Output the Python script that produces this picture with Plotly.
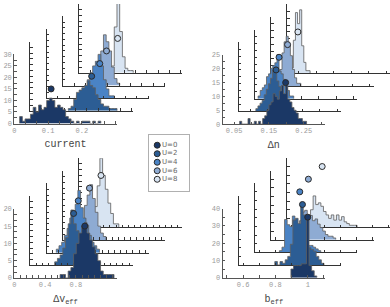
import math
import plotly.graph_objects as go

# ---------------- data ----------------
U_LABELS = ["U=0", "U=2", "U=4", "U=6", "U=8"]
AXIS_TITLES = ["current", "Δn", "Δv<sub>eff</sub>", "b<sub>eff</sub>"]

# panel 1: current
cur_bin = 0.008
cur_start = [0.016, 0.112, 0.088, 0.096, 0.096]
cur_U0 = [3, 1, 2, 2, 4, 7, 5, 8, 6, 7, 10, 11, 10, 7, 8, 7, 6, 3, 2, 1, 0, 1, 0, 1, 1, 1, 0, 1, 0, 1]
cur_U2 = [1, 2, 5, 8, 9, 10, 11, 13, 11, 10, 7, 5, 3, 2, 2, 1, 1, 1]
cur_U4 = [1, 1, 2, 3, 8, 11, 14, 16, 19, 14, 8, 4, 1, 1]
cur_U6 = [2, 7, 15, 22, 19, 15, 8, 3, 1]
cur_U8 = [3, 20, 32, 18, 7, 2, 1, 1]
cur_mean = [0.109, 0.181, 0.157, 0.129, 0.114]
cur_dot_y = 15
cur_xtick_vals = [0, 0.1, 0.2]
cur_xtick_text = ["0", "0.1", "0.2"]
cur_ytick_vals = [0, 5, 10, 15, 20, 25, 30]

# panel 2: delta n
dn_bin = 0.006
dn_start = [0.066, 0.066, 0.026, 0.036, 0.028]
dn_U0 = [1, 0, 0, 0, 2, 0, 0, 1, 0, 1, 0, 2, 3, 5, 7, 8, 11, 10, 9, 12, 14, 11, 15, 9, 8, 6, 5, 4, 2, 2, 1, 1]
dn_U2 = [1, 2, 3, 4, 6, 8, 10, 12, 15, 16, 11, 9, 7, 5, 3, 2, 1, 1]
dn_U4 = [1, 3, 4, 5, 8, 9, 11, 12, 13, 16, 10, 9, 7, 4, 3, 1, 1]
dn_U6 = [2, 6, 12, 16, 18, 15, 11, 6, 3, 1, 1]
dn_U8 = [2, 12, 22, 18, 23, 10, 4, 1, 1]
dn_mean = [0.198, 0.124, 0.086, 0.064, 0.047]
dn_dot_y = 15
dn_xtick_vals = [0.05, 0.15, 0.25]
dn_xtick_text = ["0.05", "0.15", "0.25"]
dn_ytick_vals = [0, 5, 10, 15, 20, 25]

# panel 3: delta v_eff
dv_bin = 0.035
dv_start = [0.595, 0.315, 0.125, 0.21, 0.2]
dv_U0 = [1, 1, 0, 2, 3, 7, 10, 13, 15, 16, 13, 11, 9, 7, 5, 2, 1, 1, 1, 1]
dv_U2 = [1, 2, 3, 5, 8, 12, 16, 12, 10, 8, 7, 5, 3, 3, 2, 1, 1]
dv_U4 = [1, 2, 3, 5, 7, 10, 12, 14, 18, 13, 10, 8, 5, 3, 2, 1]
dv_U6 = [2, 5, 10, 13, 16, 12, 8, 4, 2, 1]
dv_U8 = [6, 12, 20, 15, 11, 7, 4, 1, 1]
dv_mean = [0.916, 0.56, 0.41, 0.345, 0.284]
dv_dot_y = 15
dv_xtick_vals = [0, 0.4, 0.8]
dv_xtick_text = ["0", "0.4", "0.8"]
dv_ytick_vals = [0, 5, 10, 15, 20]

# panel 4: b_eff
b_bin = 0.016
b_start = [0.896, 0.696, 0.624, 0.616, 0.6]
b_U0 = [5, 7, 7, 7, 8, 8, 36, 7, 4, 1]
b_U2 = [2, 0, 2, 1, 3, 5, 12, 26, 27, 24, 36, 29, 28, 10, 9, 8, 5, 3, 1]
b_U4 = [1, 3, 19, 16, 15, 21, 18, 12, 10, 8, 6, 4, 4, 3, 2, 1]
b_U6 = [1, 5, 11, 16, 17, 13, 14, 11, 12, 9, 7, 5, 3, 2, 2, 1]
b_U8 = [4, 10, 18, 13, 14, 12, 9, 7, 5, 7, 4, 7, 4, 6, 3, 2, 1, 1, 1]
b_mean = [1.0, 0.867, 0.75, 0.703, 0.688]
b_dot_y = 35
b_xtick_vals = [0.6, 0.8, 1.0]
b_xtick_text = ["0.6", "0.8", "1"]
b_ytick_vals = [0, 10, 20, 30, 40]

# ---------------- style / layout ----------------
W, H = 390, 307
AX_W, AX_H = 103.0, 71.0
DX, DY = 16.3, 13.0
COLORS = ["#1b3866", "#2c5d94", "#4a83c5", "#8eabd3", "#d8e4f2"]
EDGE = "rgba(95,95,95,0.9)"
MONO = "Liberation Mono, DejaVu Sans Mono, monospace"

panels = [
    dict(bin=cur_bin, starts=cur_start, counts=[cur_U0, cur_U2, cur_U4, cur_U6, cur_U8],
         means=cur_mean, doty=cur_dot_y, ox=12.3, oy=122.7, xr=[0, 0.303], yr=[0, 30],
         xorig=0.0, xstep=0.1 / 3, xlv=cur_xtick_vals, xlt=cur_xtick_text,
         ystep=2.5, ylv=cur_ytick_vals),
    dict(bin=dn_bin, starts=dn_start, counts=[dn_U0, dn_U2, dn_U4, dn_U6, dn_U8],
         means=dn_mean, doty=dn_dot_y, ox=221.7, oy=123.3, xr=[0.017, 0.311], yr=[0, 25],
         xorig=0.05, xstep=0.05, xlv=dn_xtick_vals, xlt=dn_xtick_text,
         ystep=2.5, ylv=dn_ytick_vals),
    dict(bin=dv_bin, starts=dv_start, counts=[dv_U0, dv_U2, dv_U4, dv_U6, dv_U8],
         means=dv_mean, doty=dv_dot_y, ox=12.3, oy=281.3, xr=[0, 1.33], yr=[0, 20],
         xorig=0.0, xstep=0.08, xlv=dv_xtick_vals, xlt=dv_xtick_text,
         ystep=5 / 3, ylv=dv_ytick_vals),
    dict(bin=b_bin, starts=b_start, counts=[b_U0, b_U2, b_U4, b_U6, b_U8],
         means=b_mean, doty=b_dot_y, ox=221.7, oy=281.0, xr=[0.473, 1.107], yr=[0, 40],
         xorig=0.5, xstep=0.1, xlv=b_xtick_vals, xlt=b_xtick_text,
         ystep=5.0, ylv=b_ytick_vals),
]


def make_ticks(lo, hi, origin, step, lab_vals, lab_text):
    vals, text = [], []
    i = math.ceil((lo - origin) / step - 1e-9)
    while True:
        v = origin + i * step
        if v > hi + 1e-9:
            break
        vals.append(round(v, 6))
        t = ""
        for lv, lt in zip(lab_vals, lab_text):
            if abs(lv - v) < 1e-6:
                t = lt
        text.append(t)
        i += 1
    return vals, text


def step_xy(start, width, counts):
    edges = [start + width * i for i in range(len(counts) + 1)]
    xs = [edges[0]] + edges[:-1] + [edges[-1]]
    ys = [0] + list(counts) + [0]
    return xs, ys


def clamp(v):
    return max(0.0, min(1.0, v))


fig = go.Figure()
layout = {}
n = 0
for p, P in enumerate(panels):
    for u in [4, 3, 2, 1, 0]:          # back to front
        n += 1
        xid = "x" if n == 1 else f"x{n}"
        yid = "y" if n == 1 else f"y{n}"
        xkey = "xaxis" if n == 1 else f"xaxis{n}"
        ykey = "yaxis" if n == 1 else f"yaxis{n}"
        front = (u == 0)
        x0 = P["ox"] + DX * u
        y0 = P["oy"] - DY * u
        xdom = [clamp(x0 / W), clamp((x0 + AX_W) / W)]
        ydom = [clamp(1 - y0 / H), clamp(1 - (y0 - AX_H) / H)]
        lc = "#555555" if front else "#333333"

        xv, xt = make_ticks(P["xr"][0], P["xr"][1], P["xorig"], P["xstep"], P["xlv"], P["xlt"])
        yv, yt = make_ticks(P["yr"][0], P["yr"][1], 0.0, P["ystep"], P["ylv"],
                            [str(v) for v in P["ylv"]])

        layout[xkey] = dict(domain=xdom, range=P["xr"], anchor=yid, showline=True,
                            linecolor=lc, linewidth=1, ticks="inside", ticklen=2.5,
                            tickwidth=1, tickcolor=lc, showgrid=False, zeroline=False,
                            tickmode="array", tickvals=xv, ticktext=xt,
                            showticklabels=front,
                            tickfont=dict(family=MONO, size=7, color="#9a9a9a"),
                            fixedrange=True)
        layout[ykey] = dict(domain=ydom, range=P["yr"], anchor=xid, showline=True,
                            linecolor=lc, linewidth=1, ticks="inside", ticklen=2.5,
                            tickwidth=1, tickcolor=lc, showgrid=False, zeroline=False,
                            tickmode="array", tickvals=yv, ticktext=yt,
                            showticklabels=front,
                            tickfont=dict(family=MONO, size=7, color="#9a9a9a"),
                            fixedrange=True)
        if front:
            layout[xkey]["title"] = dict(text=AXIS_TITLES[p], standoff=6,
                                         font=dict(family=MONO, size=10, color="#444444"))

        xs, ys = step_xy(P["starts"][u], P["bin"], P["counts"][u])
        fig.add_trace(go.Scatter(x=xs, y=ys, mode="lines", line=dict(shape="hv", color=EDGE, width=0.9),
                                 fill="tozeroy", fillcolor=COLORS[u], xaxis=xid, yaxis=yid,
                                 showlegend=False, hoverinfo="skip"))
        fig.add_trace(go.Scatter(x=[P["means"][u]], y=[P["doty"]], mode="markers",
                                 marker=dict(size=6, color=COLORS[u], line=dict(color="#2a2a2a", width=1)),
                                 xaxis=xid, yaxis=yid, showlegend=False, hoverinfo="skip"))

# legend as a small framed subplot
n += 1
LX0, LX1, LY0, LY1 = 147.3, 188.3, 134.0, 191.7
layout[f"xaxis{n}"] = dict(domain=[LX0 / W, LX1 / W], range=[-8.7, 32.3], anchor=f"y{n}",
                           showline=True, mirror=True, linecolor="#b0b0b0", linewidth=1,
                           showticklabels=False, ticks="", showgrid=False, zeroline=False,
                           fixedrange=True)
layout[f"yaxis{n}"] = dict(domain=[1 - LY1 / H, 1 - LY0 / H], range=[5.34, -1.257], anchor=f"x{n}",
                           showline=True, mirror=True, linecolor="#b0b0b0", linewidth=1,
                           showticklabels=False, ticks="", showgrid=False, zeroline=False,
                           fixedrange=True)
fig.add_trace(go.Scatter(x=[0] * len(U_LABELS), y=list(range(len(U_LABELS))),
                         mode="markers+text", text=U_LABELS, textposition="middle right",
                         textfont=dict(family="DejaVu Sans", size=7, color="#666666"),
                         marker=dict(size=6, color=COLORS, line=dict(color="#2a2a2a", width=1)),
                         xaxis=f"x{n}", yaxis=f"y{n}", cliponaxis=False,
                         showlegend=False, hoverinfo="skip"))

fig.update_layout(width=W, height=H, margin=dict(l=0, r=0, t=0, b=0),
                  paper_bgcolor="white", plot_bgcolor="rgba(0,0,0,0)",
                  showlegend=False, hovermode=False, **layout)
fig.write_html("out.html", config={"displayModeBar": False, "staticPlot": True},
               post_script="document.body.style.margin='0';document.body.style.overflow='hidden';")
